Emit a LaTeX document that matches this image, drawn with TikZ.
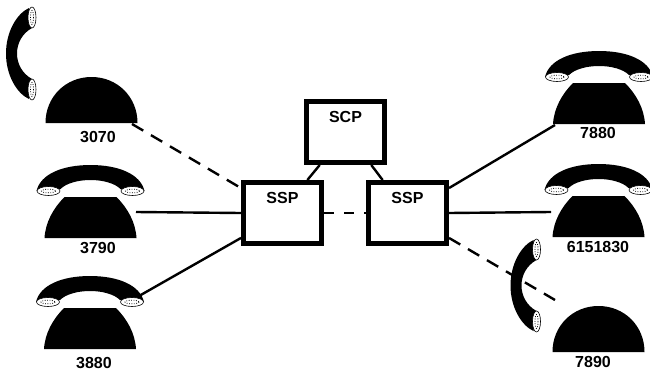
\documentclass[tikz,border=0pt]{standalone}
\usepackage{fontspec}
\setmainfont{Liberation Sans}
\usetikzlibrary{positioning}

\tikzset{
  box/.style={draw,line width=5pt,minimum width=78pt,inner xsep=0pt,inner ysep=11.5pt,
    text height=9pt,text depth=29pt,font=\fontsize{16}{16}\selectfont\bfseries},
  number/.style={inner sep=0pt,font=\fontsize{16}{16}\selectfont\bfseries},
  wire/.style={line width=2.4pt},
  dashwire/.style={line width=2.4pt,dash pattern=on 13pt off 9pt},
  ear/.style={draw,line width=0.6pt,fill=white},
  pics/base/.style={code={
    \fill (-46,0) .. controls (-46,-26) and (-26,-46) .. (0,-46)
      .. controls (26,-46) and (46,-26) .. (46,0) -- cycle;
  }},
  pics/cradle/.style={code={
    \fill (-46,0) .. controls (-45,-16) and (-37,-30) .. (-26,-41) -- (26,-41)
      .. controls (37,-30) and (45,-16) .. (46,0) -- cycle;
    \fill (-54,-47) .. controls (-50,-64) and (-28,-73) .. (0,-73)
      .. controls (28,-73) and (50,-64) .. (54,-47) -- (30,-49)
      .. controls (24,-55) and (12,-58) .. (0,-58)
      .. controls (-12,-58) and (-24,-55) .. (-30,-49) -- cycle;
    \foreach \side in {-42,42} {
      \draw[ear] (\side,-47) ellipse (11.5 and 4.5);
      \draw[line width=0.8pt,dash pattern=on 0.8pt off 1.6pt] (\side,-47) ellipse (7 and 1.8);
    }
  }},
  pics/lifted/.style={code={
    \fill (-3,-45.5) .. controls (-15,-40) and (-26,-22) .. (-26,0)
      .. controls (-26,22) and (-15,40) .. (-3,45.5) -- (0,25.5)
      .. controls (-10,20) and (-15,10) .. (-15,0)
      .. controls (-15,-10) and (-10,-20) .. (0,-25.5) -- cycle;
    \foreach \side in {-36,36} {
      \draw[ear] (0,\side) ellipse (4 and 10.5);
      \draw[line width=0.8pt,dash pattern=on 0.8pt off 1.6pt] (0,\side) ellipse (1.5 and 7);
    }
  }}
}

\begin{document}
\begin{tikzpicture}[x=1pt,y=-1pt]
\useasboundingbox (0,0) rectangle (650,372);

\pic at (32,53.5) {lifted};
\pic at (91.5,123) {base};
\pic at (90.5,238) {cradle};
\pic at (90,349) {cradle};
\pic at (599,124) {cradle};
\pic at (598.5,237) {cradle};
\pic at (536.5,285.5) {lifted};
\pic at (598.5,352) {base};

\node[number] (n3070) at (98,137) {3070};
\node[number] (n3790) at (98,248) {3790};
\node[number] (n3880) at (94,363) {3880};
\node[number] (n7880) at (598,133) {7880};
\node[number] (n6151830) at (598,247) {6151830};
\node[number] (n7890) at (593,362) {7890};

\node[box] (scp) at (345.5,132) {SCP};
\node[box] (sspa) at (282.5,213) {SSP};
\node[box] (sspb) [right=42pt of sspa] {SSP};

\coordinate (p3070) at (132,124);
\coordinate (p3790) at (136,212);
\coordinate (p3880) at (139,296);
\coordinate (p7880) at (555,125);
\coordinate (p6151830) at (551,212);
\coordinate (p7890) at (555,300);

\path[wire]
(scp.-128) edge (sspa.53)
(scp.-52) edge (sspb.127)
(sspa.west) edge (p3790)
(sspa.-149) edge (p3880)
(sspb.31) edge (p7880)
(sspb.east) edge (p6151830);

\path[dashwire]
(p3070) edge (sspa.149)
(sspb.-31) edge (p7890);

\path[wire,dash pattern=on 10pt off 10pt]
(sspa.east) edge (sspb.west);

\end{tikzpicture}
\end{document}
